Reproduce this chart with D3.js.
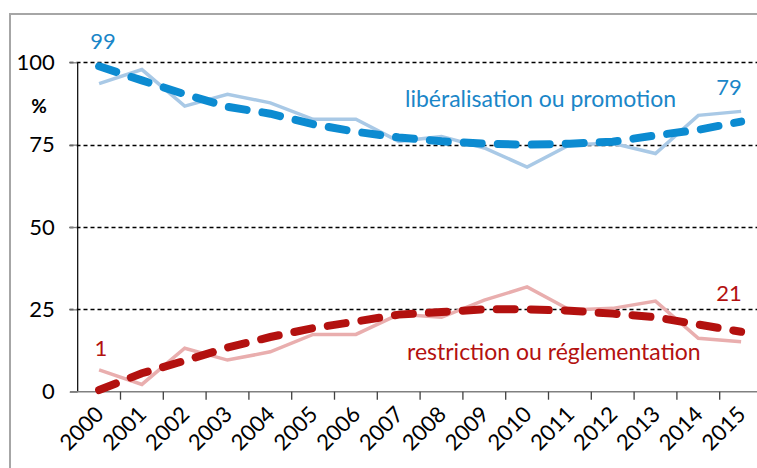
<!DOCTYPE html>
<html>
<head>
<meta charset="utf-8">
<script src="https://cdn.jsdelivr.net/npm/d3@7"></script>
<style>
  body { margin: 0; background: #fff; }
  svg { display: block; font-family: Lato, "Open Sans", sans-serif; }
</style>
</head>
<body>
<script>
const years = ["2000","2001","2002","2003","2004","2005","2006","2007",
               "2008","2009","2010","2011","2012","2013","2014","2015"];
// libéralisation ou promotion
const libAnnual = [93.5, 97.8, 86.7, 90.3, 87.7, 82.7, 82.7, 76, 77.5, 74, 68.2, 75, 75.4, 72.3, 83.9, 85.1];
const libTrend  = [98.8, 94.5, 90.3, 86.5, 84.4, 81.2, 78.9, 77.2, 76, 75.3, 75, 75.3, 75.9, 77.8, 79.5, 82];
// restriction ou réglementation
const resAnnual = [6.6, 2.2, 13.2, 9.6, 12.1, 17.4, 17.4, 23.5, 22.6, 27.8, 31.8, 24.8, 25.3, 27.5, 16.2, 15.2];
const resTrend  = [0.5, 5.6, 9.4, 13.4, 16.6, 19.3, 21.3, 23.4, 24.2, 25, 25, 24.6, 23.7, 22.6, 20.4, 18.2];
const yTicks = [0, 25, 50, 75, 100];
const gridTicks = [25, 50, 75, 100];
const startLabels = ["99", "1"];
const endLabels = ["79", "21"];
const seriesNames = ["libéralisation ou promotion", "restriction ou réglementation"];

const width = 757, height = 468;
const svg = d3.select("body").append("svg")
    .attr("width", width)
    .attr("height", height);

// outer frame
svg.append("path")
    .attr("d", "M10,470 L10,14 L760,14")
    .style("fill", "none")
    .style("stroke", "#a6a6a6")
    .style("stroke-width", 2);

const x = d3.scaleBand().domain(years).range([77.7, 762.5]);
const y = d3.scaleLinear().domain([0, 100]).range([391.7, 62.3]);
const xc = d => x(d) + x.bandwidth() / 2;

// dashed gridlines
svg.selectAll(".grid")
    .data(gridTicks)
    .join("line")
    .attr("x1", 69.5).attr("x2", width)
    .attr("y1", d => Math.round(y(d)) + 0.5)
    .attr("y2", d => Math.round(y(d)) + 0.5)
    .style("stroke", "#000")
    .style("stroke-width", 1.3)
    .style("stroke-dasharray", "4,3");

// y axis
const yAxis = svg.append("g")
    .attr("transform", "translate(77.7,0)")
    .call(d3.axisLeft(y).tickValues(yTicks).tickSize(8).tickPadding(15));
yAxis.select(".domain").remove();
yAxis.append("line")
    .attr("x1", 0).attr("x2", 0)
    .attr("y1", y(0)).attr("y2", y(100))
    .style("stroke", "#000").style("stroke-width", 1.2);
yAxis.selectAll(".tick line").style("stroke", "#808080").style("stroke-width", 1.3);
yAxis.selectAll(".tick text")
    .style("font-size", "22px")
    .style("fill", "#000")
    .style("font-family", "Lato, sans-serif");

// x axis, ticks on band boundaries
const xAxis = svg.append("g")
    .attr("transform", `translate(0,${y(0)})`);
xAxis.append("line")
    .attr("x1", 70).attr("x2", width)
    .style("stroke", "#808080").style("stroke-width", 1.5);
xAxis.selectAll(".xtick")
    .data(years.slice(1))
    .join("line")
    .attr("x1", d => x(d)).attr("x2", d => x(d))
    .attr("y1", 0).attr("y2", 8)
    .style("stroke", "#404040").style("stroke-width", 1.3);
xAxis.selectAll(".xlab")
    .data(years)
    .join("text")
    .attr("transform", d => `translate(${xc(d) + 6},${24}) rotate(-45)`)
    .attr("text-anchor", "end")
    .style("font-size", "22px")
    .style("fill", "#000")
    .text(d => d);

// % unit
svg.append("text")
    .attr("x", 39).attr("y", 113)
    .attr("text-anchor", "middle")
    .style("font-size", "19px")
    .style("font-weight", "bold")
    .text("%");

const line = d3.line()
    .x((d, i) => xc(years[i]))
    .y(d => y(d));

const drawSeries = (annual, trend, light, dark) => {
  svg.append("path")
      .style("fill", "none")
      .style("stroke", light)
      .style("stroke-width", 3.5)
      .attr("d", line(annual));
  svg.append("path")
      .style("fill", "none")
      .style("stroke", dark)
      .style("stroke-width", 8)
      .style("stroke-linecap", "round")
      .style("stroke-dasharray", "18,16")
      .attr("d", line(trend));
};
drawSeries(libAnnual, libTrend, "#a9c9e6", "#0c8bd1");
drawSeries(resAnnual, resTrend, "#e9aeae", "#b3110f");

// value labels
const blue = "#1a86c8", red = "#b3110f";
svg.append("text").attr("x", 103).attr("y", 49).attr("text-anchor", "middle")
    .style("font-size", "22px").style("fill", blue).text(startLabels[0]);
svg.append("text").attr("x", 101).attr("y", 356).attr("text-anchor", "middle")
    .style("font-size", "22px").style("fill", red).text(startLabels[1]);
svg.append("text").attr("x", 729).attr("y", 95).attr("text-anchor", "middle")
    .style("font-size", "22px").style("fill", blue).text(endLabels[0]);
svg.append("text").attr("x", 729).attr("y", 301).attr("text-anchor", "middle")
    .style("font-size", "22px").style("fill", red).text(endLabels[1]);

// series names
svg.append("text").attr("x", 405).attr("y", 107)
    .style("font-size", "23px").style("fill", blue).text(seriesNames[0]);
svg.append("text").attr("x", 407).attr("y", 360)
    .style("font-size", "23px").style("fill", red).text(seriesNames[1]);
</script>
</body>
</html>
